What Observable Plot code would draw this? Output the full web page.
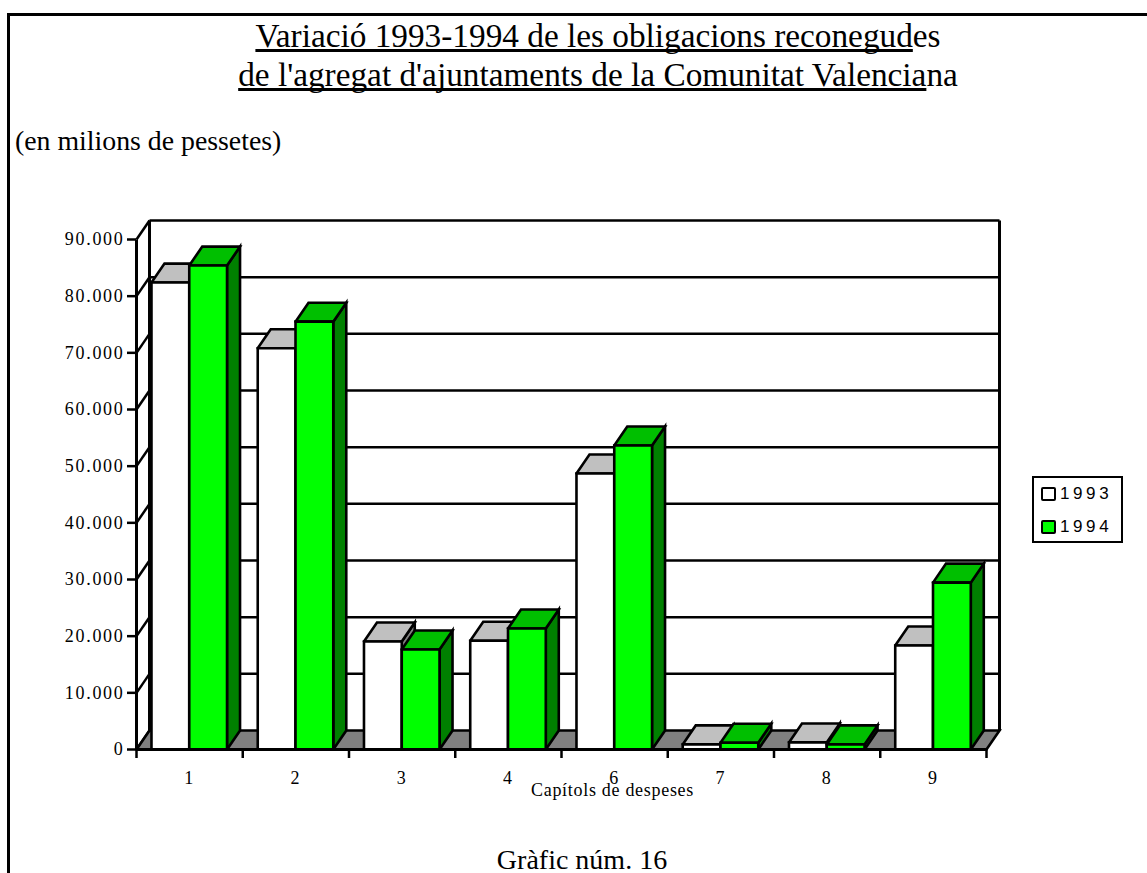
<!DOCTYPE html>
<html>
<head>
<meta charset="utf-8">
<script src="https://cdn.jsdelivr.net/npm/d3@7"></script>
<script src="https://cdn.jsdelivr.net/npm/@observablehq/plot@0.6"></script>
<style>
  html, body { margin: 0; padding: 0; background: #fff; overflow: hidden; }
  #page { position: relative; width: 1147px; height: 873px; overflow: hidden; font-family: "Liberation Serif", serif; color: #000; }
  #frame { position: absolute; left: 7px; top: 13px; width: 1140px; height: 860px; border-left: 3px solid #000; border-top: 3px solid #000; box-sizing: border-box; }
  #header { position: relative; height: 190px; }
  .t { position: absolute; left: 0; white-space: nowrap; }
  #title1, #title2 { font-size: 33.3px; line-height: 38px; width: 1196px; text-align: center; }
  #title1 { top: 17px; }
  #title2 { top: 56px; }
  #title1 u, #title2 u { text-decoration-thickness: 2.5px; text-underline-offset: 2px; text-decoration-skip-ink: none; }
  #unit { left: 15px; top: 126px; font-size: 27.8px; line-height: 30px; }
  #chart svg { display: block; }
  #caption { position: absolute; top: 847px; left: 0; width: 1164px; text-align: center; font-size: 28px; line-height: 26px; }
  #legend { position: absolute; left: 1032px; top: 476px; width: 91px; height: 67px; border: 2.5px solid #000; box-sizing: border-box; background: #fff; font-family: "Liberation Sans", sans-serif; font-size: 17px; letter-spacing: 3.6px; }
  .row { position: absolute; left: 7px; height: 15px; display: flex; align-items: center; }
  .sw { width: 15px; height: 14px; border: 2.5px solid #000; border-radius: 2px; box-sizing: border-box; margin-right: 4px; }
</style>
</head>
<body>
<div id="page">
  <div id="frame"></div>
  <div id="header">
    <div class="t" id="title1"><u>Variació 1993-1994 de les obligacions reconegud</u>es</div>
    <div class="t" id="title2"><u>de l'agregat d'ajuntaments de la Comunitat Valencia</u>na</div>
    <div class="t" id="unit">(en milions de pessetes)</div>
  </div>
  <div id="chart"></div>
  <div id="legend"></div>
  <div id="caption">Gràfic núm. 16</div>
</div>
<script>
const capitols = ["1", "2", "3", "4", "6", "7", "8", "9"];
const valors1993 = [82400, 70800, 19050, 19200, 48700, 900, 1250, 18350];
const valors1994 = [85400, 75500, 17650, 21350, 53650, 1200, 900, 29450];
const marquesY = [0, 10000, 20000, 30000, 40000, 50000, 60000, 70000, 80000, 90000];

const colors = {
  1993: {front: "#ffffff", top: "#c0c0c0", side: "#808080"},
  1994: {front: "#00ff00", top: "#00bf00", side: "#008000"}
};

// Oblique depth of the pseudo-3D projection, in data units
const depthX = 0.1224, depthY = 3350;
const barStart = 0.141, barWidth = 0.3555;
const xMax = capitols.length, yMax = 90000;

let faces = [];
function face(id, fill, pts) {
  [...pts, pts[0]].forEach(([x, y]) => faces.push({id, fill, x, y}));
}
face("floor", "#808080", [[0, 0], [xMax, 0], [xMax + depthX, depthY], [depthX, depthY]]);
function bar(key, i, s, v) {
  const x0 = i + barStart + s * barWidth, x1 = x0 + barWidth, c = colors[key];
  face(`${key}-${i}-side`, c.side, [[x1, 0], [x1 + depthX, depthY], [x1 + depthX, v + depthY], [x1, v]]);
  face(`${key}-${i}-top`, c.top, [[x0, v], [x1, v], [x1 + depthX, v + depthY], [x0 + depthX, v + depthY]]);
  face(`${key}-${i}-front`, c.front, [[x0, 0], [x1, 0], [x1, v], [x0, v]]);
}
capitols.forEach((_, i) => {
  bar(1993, i, 0, valors1993[i]);
  bar(1994, i, 1, valors1994[i]);
});

const grid = marquesY.slice(1).map(t => ({x1: depthX, x2: xMax + depthX, y1: t + depthY, y2: t + depthY}));
const sideLines = marquesY.map(t => ({x1: 0, x2: depthX, y1: t, y2: t + depthY}));
const verticals = [
  {x1: depthX, x2: depthX, y1: depthY, y2: yMax + depthY},
  {x1: xMax + depthX, x2: xMax + depthX, y1: depthY, y2: yMax + depthY},
  {x1: 0, x2: 0, y1: 0, y2: yMax}
];
const fmt = d => d3.format(",")(d).replace(/,/g, ".");

const plot = Plot.plot({
  width: 1147,
  height: 610,
  marginLeft: 136,
  marginRight: 161,
  marginTop: 49,
  marginBottom: 51,
  x: {domain: [0, xMax], axis: null},
  y: {domain: [0, yMax], axis: null},
  style: {background: "transparent", color: "#000", overflow: "visible"},
  marks: [
    Plot.link(grid, {x1: "x1", x2: "x2", y1: "y1", y2: "y2", stroke: "#000", strokeWidth: 2.5}),
    Plot.link(sideLines, {x1: "x1", x2: "x2", y1: "y1", y2: "y2", stroke: "#000", strokeWidth: 2.5}),
    Plot.link(verticals, {x1: "x1", x2: "x2", y1: "y1", y2: "y2", stroke: "#000", strokeWidth: 3}),
    Plot.line(faces, {
      x: "x", y: "y", z: "id",
      fill: {value: "fill", scale: null},
      stroke: "#000", strokeWidth: 2.6, strokeLinejoin: "miter", strokeMiterlimit: 4
    }),
    Plot.ruleY([0], {x1: 0, x2: xMax, stroke: "#000", strokeWidth: 3}),
    Plot.axisY({
      ticks: marquesY, tickFormat: fmt, tickSize: 9, tickPadding: 3, label: null,
      fontFamily: "Liberation Serif", fontSize: 18, strokeWidth: 2.5, stroke: "#000", fill: "#000"
    }),
    Plot.axisX({
      ticks: d3.range(0, xMax + 1), tickFormat: () => "", tickSize: 9, label: null,
      strokeWidth: 2.5, stroke: "#000"
    }),
    Plot.axisX({
      ticks: capitols.map((_, i) => i + 0.5), tickFormat: v => capitols[v - 0.5],
      tickSize: 0, tickPadding: 22, label: null, dx: -1,
      fontFamily: "Liberation Serif", fontSize: 18, fill: "#000"
    }),
    Plot.text(["Capítols de despeses"], {
      frameAnchor: "bottom", dy: 46, dx: 51, text: d => d,
      fontFamily: "Liberation Serif", fontSize: 18, fill: "#000"
    })
  ]
});
plot.querySelectorAll('[aria-label="y-axis tick label"]').forEach(n => n.style.letterSpacing = "1.7px");
plot.querySelectorAll('[aria-label="text"]').forEach(n => n.style.letterSpacing = "0.7px");
document.getElementById("chart").appendChild(plot);

const legend = document.getElementById("legend");
[1993, 1994].forEach((k, i) => {
  const r = document.createElement("div");
  r.className = "row";
  r.style.top = (8 + i * 33) + "px";
  const s = document.createElement("span");
  s.className = "sw";
  s.style.background = colors[k].front;
  r.appendChild(s);
  r.appendChild(document.createTextNode(k));
  legend.appendChild(r);
});
</script>
</body>
</html>
